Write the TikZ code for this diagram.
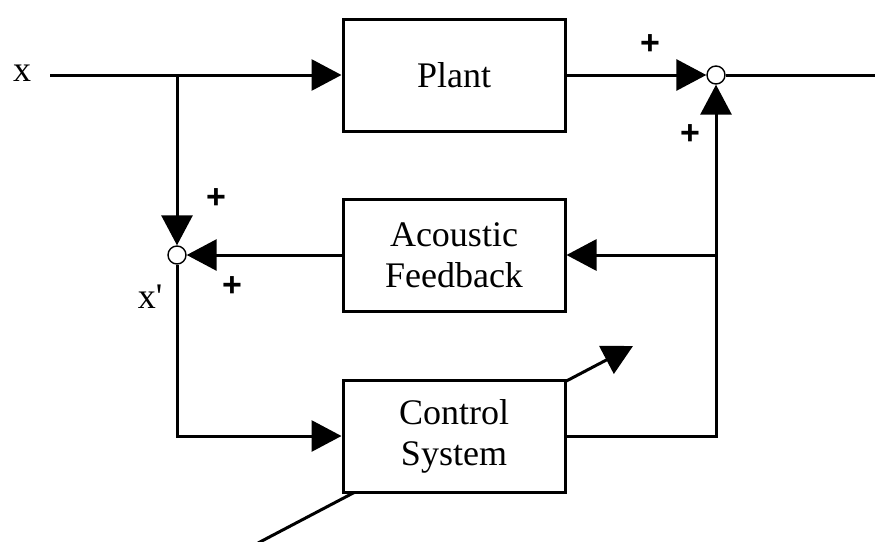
\documentclass[tikz,border=0pt]{standalone}
\usepackage{fontspec}
\setmainfont{Liberation Serif}
\newfontfamily\plusfont{Liberation Sans}
\usetikzlibrary{arrows.meta}
\begin{document}
\begin{tikzpicture}[x=1pt,y=-1pt,
  line width=3pt,
  tip/.style={-{Triangle[length=30pt,width=31pt]}},
  block/.style={draw,fill=white,minimum width=222pt,minimum height=112pt,inner sep=0pt,align=center,font=\fontsize{36}{41}\selectfont},
  sumpt/.style={circle,draw,line width=1.4pt,fill=white,minimum size=18pt,inner sep=0pt},
  lbl/.style={font=\fontsize{36}{41}\selectfont,inner sep=0pt},
  sign/.style={font=\plusfont\bfseries\fontsize{34}{38}\selectfont,inner sep=0pt}]
\useasboundingbox (0,0) rectangle (875,541);
% adjustment arrow (behind the control block)
\coordinate (adjin) at (258,543);
\coordinate (adjout) at (633,346);
\draw[tip] (adjin) -- (adjout);
% blocks
\node[block] (plant) at (454,75) {Plant};
\node[block] (acoustic) at (454,255) {Acoustic\\Feedback};
\node[block] (control) at (454,436) {Control\\System};
% summing points
\node[sumpt] (s1) at (716,75) {};
\node[sumpt] (s2) at (177,255) {};
% helper points
\coordinate (xin) at (50,75);
\coordinate (b1) at (177,75);
\coordinate (yout) at (875,75);
\coordinate (b2) at (716,255);
\coordinate (c1) at (177,436);
\coordinate (c2) at (716,436);
% connectors
\draw[tip] (xin) -- (plant.west);
\draw[tip] (plant.east) -- (s1);
\draw (s1) -- (yout);
\draw[tip] (control.east) -- (c2) -- (s1);
\draw[tip] (b2) -- (acoustic.east);
\draw[tip] (acoustic.west) -- (s2);
\draw[tip] (b1) -- (s2);
\draw[tip] (s2) -- (c1) -- (control.west);
% labels
\node[lbl] (xlab) at (22,73) {x};
\node[lbl] (xplab) at (150,297) {x\textquotesingle};
\node[sign] (p1) at (650,45) {+};
\node[sign] (p2) at (690,135) {+};
\node[sign] (p3) at (216,199) {+};
\node[sign] (p4) at (232,287) {+};
\end{tikzpicture}
\end{document}
